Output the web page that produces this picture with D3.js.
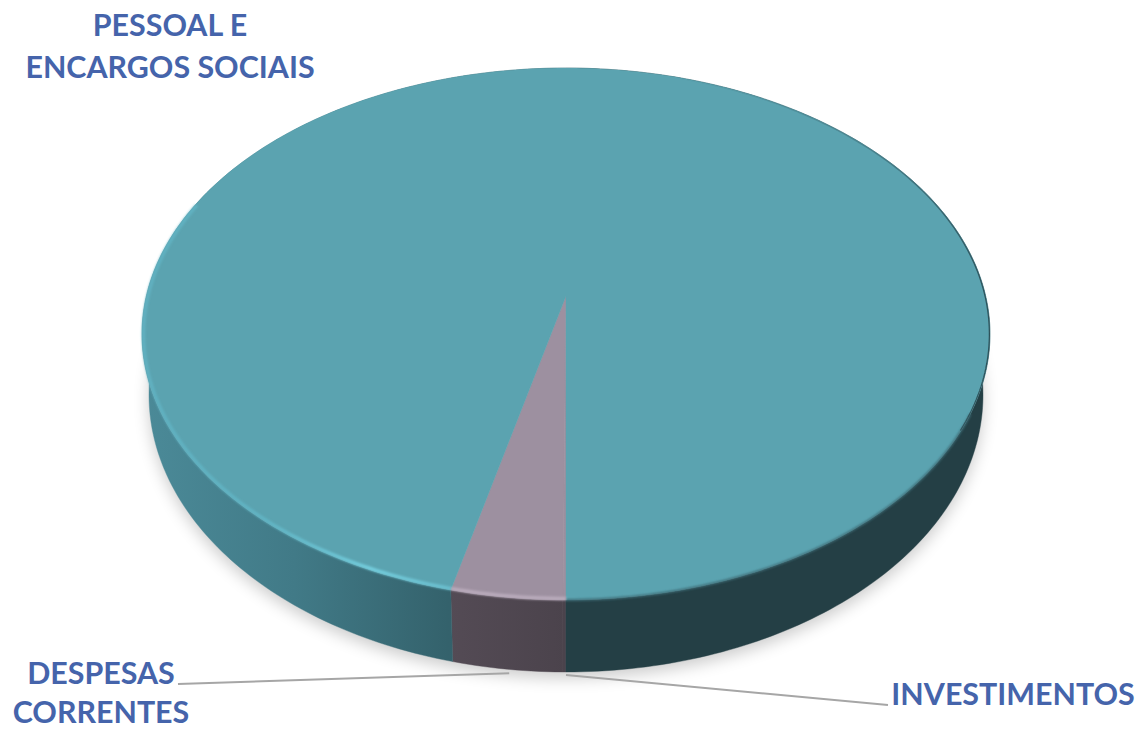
<!DOCTYPE html>
<html><head><meta charset="utf-8">
<script src="https://cdn.jsdelivr.net/npm/d3@7/dist/d3.min.js"></script>
<style>html,body{margin:0;padding:0;background:#fff}svg{display:block}</style>
</head><body><svg id="c" width="1140" height="730"></svg>
<script>
const categories = ["INVESTIMENTOS","DESPESAS CORRENTES","PESSOAL E ENCARGOS SOCIAIS"];
const values = [0.1,3.7,96.2];
const topColors = ["#9D90A0","#9D90A0","#5BA3B0"];
const wallLeft = ["#4B434C","#544B55","#4C8896"];
const wallRight = ["#4B434C","#4B434C","#243F45"];

const W=1140,H=730,cx=566,topCy=334,rxTop=424,ryTop=266,botCy=395,rxBot=417,ryBot=277;
const apexY=296, nearY=600, farY=68;
// perspective of the disc: solve the homography from far / centre / near points
const c=((nearY+farY)-2*apexY)/(nearY-farY), B=nearY*(1-c)-apexY, K=rxTop*Math.sqrt(1-c*c);
function proj(a){ // a: angle clockwise from 12 o'clock
  const x=Math.sin(a), y=-Math.cos(a), w=1-c*y;
  return [cx+K*x/w,(apexY+B*y)/w];
}
function projBot(a){const p=proj(a);return [cx+(p[0]-cx)*rxBot/rxTop,botCy+(p[1]-topCy)*ryBot/ryTop];}
const arcs=d3.pie().sort(null).startAngle(Math.PI).endAngle(3*Math.PI).value(d=>d)(values);
const sample=(a0,a1)=>{const n=Math.max(2,Math.ceil(Math.abs(a1-a0)*60));return d3.range(n+1).map(i=>a0+(a1-a0)*i/n);};
const line=d3.line().curve(d3.curveLinear);
const svg=d3.select("#c"),defs=svg.append("defs");

const blur=(id,s)=>defs.append("filter").attr("id",id).attr("filterUnits","userSpaceOnUse")
  .attr("x",0).attr("y",0).attr("width",W).attr("height",H)
  .append("feGaussianBlur").attr("stdDeviation",s);
blur("sh",8);blur("rim",1.3);blur("seam",1);blur("edge",.6);

const outline=sample(0,2*Math.PI);
defs.append("clipPath").attr("id","topClip").append("path").attr("d",line(outline.map(proj))+"Z");

// soft shadow
svg.append("path").attr("d",line(outline.map(a=>{const p=projBot(a);return [p[0],p[1]+6];}))+"Z")
  .attr("fill","#000").attr("opacity",.2).attr("filter","url(#sh)");

const x=d3.scaleLinear().domain([0,1]).range([142,990]);
// walls
arcs.forEach((d,i)=>{
  const g=defs.append("linearGradient").attr("id","w"+i).attr("gradientUnits","userSpaceOnUse")
    .attr("x1",x(0)).attr("x2",x(1)).attr("y1",0).attr("y2",0);
  if(i===2){
    [[0,"#4B8A98"],[.18,"#417A87"],[.36,"#34626C"],[.5,"#2E565E"],[.5,wallRight[i]],[1,wallRight[i]]]
      .forEach(s=>g.append("stop").attr("offset",s[0]).attr("stop-color",s[1]));
  } else {
    g.append("stop").attr("offset",.36).attr("stop-color",wallLeft[i]);
    g.append("stop").attr("offset",.5).attr("stop-color",wallRight[i]);
  }
  const as=sample(d.startAngle,d.endAngle);
  svg.append("path").attr("d",line(as.map(proj).concat(as.slice().reverse().map(projBot)))+"Z")
    .attr("fill","url(#w"+i+")").attr("stroke","url(#w"+i+")").attr("stroke-width",.4);
});
const pess=arcs[2], desp=arcs[1];
// top
arcs.forEach((d,i)=>{
  const as=sample(d.startAngle,d.endAngle);
  svg.append("path").attr("d",line([[cx,apexY]].concat(as.map(proj)))+"Z")
    .attr("fill",topColors[i]).attr("stroke",topColors[i]).attr("stroke-width",.4);
});
// soft blend at the lower right
svg.append("path").attr("d",line(sample(2.64*Math.PI,3*Math.PI).map(proj)))
  .attr("fill","none").attr("stroke","#3E6C76").attr("stroke-width",2).attr("filter","url(#seam)");
// bevel: highlight on lower left
const rg=defs.append("linearGradient").attr("id","rimG").attr("gradientUnits","userSpaceOnUse")
  .attr("x1",x(0)).attr("x2",x(.36)).attr("y1",0).attr("y2",0);
[[0,"#62B5C6",.75],[.4,"#62B8C8",.8],[.75,"#74CEDE",1],[1,"#6CC2D2",.9]]
 .forEach(s=>rg.append("stop").attr("offset",s[0]).attr("stop-color",s[1]).attr("stop-opacity",s[2]));
const inset=1.5;
const insetPt=a=>{const p=proj(a);const dx=p[0]-cx,dy=p[1]-topCy,n=Math.hypot(dx,dy);return [p[0]-dx/n*inset,p[1]-dy/n*inset];};
svg.append("path").attr("d",line(sample(pess.startAngle,1.62*Math.PI).map(insetPt)))
  .attr("fill","none").attr("stroke","url(#rimG)").attr("stroke-width",3.5).attr("filter","url(#rim)");
svg.append("path").attr("d",line(sample(arcs[0].startAngle,desp.endAngle).map(insetPt)))
  .attr("fill","none").attr("stroke","#B9ABBC").attr("stroke-width",3.5).attr("filter","url(#rim)");
// bevel: thin dark edge on the upper right
const dg=defs.append("linearGradient").attr("id","darkG").attr("gradientUnits","userSpaceOnUse")
  .attr("x1",700).attr("x2",985).attr("y1",0).attr("y2",0);
[[0,"#2A4A52",.05],[.6,"#2A4A52",.35],[1,"#2A4A52",.9]]
 .forEach(s=>dg.append("stop").attr("offset",s[0]).attr("stop-color",s[1]).attr("stop-opacity",s[2]));
svg.append("g").attr("clip-path","url(#topClip)").append("path")
  .attr("d",line(sample(2.1*Math.PI,2.66*Math.PI).map(proj)))
  .attr("fill","none").attr("stroke","url(#darkG)").attr("stroke-width",2.5).attr("filter","url(#edge)");

// leaders
const mid=arcs.map(d=>(d.startAngle+d.endAngle)/2);
const endInv=[888,705], endDesp=[178,684];
const pI=projBot(arcs[0].startAngle),pD=projBot(mid[1]);
const ll=svg.append("g").attr("stroke","#A6A6A6").attr("stroke-width",2).attr("fill","none");
ll.append("path").attr("d",line([[pD[0]+2,pD[1]+4],endDesp]));
ll.append("path").attr("d",line([[pI[0],pI[1]+3],endInv]));

// labels
const labels=[
 {t:"PESSOAL E",x:170,y:36},{t:"ENCARGOS SOCIAIS",x:170,y:78},
 {t:"DESPESAS",x:101,y:684},{t:"CORRENTES",x:101,y:723},
 {t:"INVESTIMENTOS",x:1013,y:705}];
svg.append("g").selectAll("text").data(labels).join("text")
 .attr("x",d=>d.x).attr("y",d=>d.y).attr("text-anchor","middle").text(d=>d.t)
 .attr("font-family","Lato, 'Open Sans', sans-serif").attr("font-weight",700).attr("font-size",30.4).attr("fill","#4564AB");
</script></body></html>
